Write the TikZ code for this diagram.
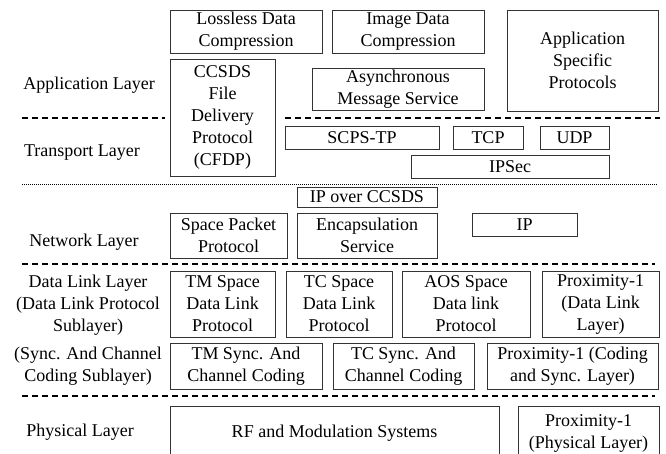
\documentclass[tikz,border=0pt]{standalone}
\usepackage{fontspec}
\setmainfont{Liberation Serif}
\begin{document}
\begin{tikzpicture}[x=1pt,y=-1pt,
    blk/.style={draw=black!80, line width=0.8pt, align=center, inner sep=0pt},
    lyr/.style={align=center, inner sep=0pt},
    sep/.style={line width=2.4pt, dash pattern=on 6pt off 4pt},
    fine/.style={line width=0.6pt, dash pattern=on 1pt off 1pt}]
\useasboundingbox (0,0) rectangle (666,453);
\clip (0,0) rectangle (666,453);
\fontsize{18}{22}\selectfont

% layer names
\node[lyr] (applayer) at (89,85) {Application Layer};
\node[lyr] (translayer) at (82,153) {Transport Layer};
\node[lyr] (netlayer) at (84,242) {Network Layer};
\node[lyr] (dlllayer) at (88,305) {Data Link Layer\\(Data Link Protocol\\Sublayer)};
\node[lyr] (synclayer) at (88,366) {(Sync. And Channel\\Coding Sublayer)};
\node[lyr] (phylayer) at (80,432) {Physical Layer};

% application
\node[blk, minimum width=152, minimum height=43] (lossless) at (246,31.5) {Lossless Data\\Compression};
\node[blk, minimum width=152, minimum height=43] (imgcomp) at (408,31.5) {Image Data\\Compression};
\node[blk, minimum width=151, minimum height=101] (appspec) at (582.5,60.5) {Application\\Specific\\Protocols};
\node[blk, minimum width=172, minimum height=42] (ams) at (398,89) {Asynchronous\\Message Service};
\node[blk, minimum width=105, minimum height=117] (cfdp) at (222.5,117.5) {CCSDS\\File\\Delivery\\Protocol\\(CFDP)};

% transport
\node[blk, minimum width=154, minimum height=23] (scps) at (362,137.5) {SCPS-TP};
\node[blk, minimum width=70, minimum height=23] (tcp) at (488,137.5) {TCP};
\node[blk, minimum width=69, minimum height=23] (udp) at (574.5,137.5) {UDP};
\node[blk, minimum width=198, minimum height=23] (ipsec) at (510,166.5) {IPSec};

% network
\node[blk, minimum width=140, minimum height=20] (ipccsds) at (367,197) {IP over CCSDS};
\node[blk, minimum width=117, minimum height=45] (spp) at (228.5,235.5) {Space Packet\\Protocol};
\node[blk, minimum width=140, minimum height=45] (encap) at (367,235.5) {Encapsulation\\Service};
\node[blk, minimum width=105, minimum height=23] (ip) at (524.5,224.5) {IP};

% data link
\node[blk, minimum width=105, minimum height=66] (tmsdl) at (222.5,304) {TM Space\\Data Link\\Protocol};
\node[blk, minimum width=106, minimum height=66] (tcsdl) at (339,304) {TC Space\\Data Link\\Protocol};
\node[blk, minimum width=128, minimum height=66] (aossdl) at (466,304) {AOS Space\\Data link\\Protocol};
\node[blk, minimum width=117, minimum height=66] (proxdl) at (600.5,304) {Proximity-1\\(Data Link\\Layer)};

% sync and coding
\node[blk, minimum width=152, minimum height=46] (tmsync) at (246,366) {TM Sync. And\\Channel Coding};
\node[blk, minimum width=141, minimum height=46] (tcsync) at (403.5,366) {TC Sync. And\\Channel Coding};
\node[blk, minimum width=171, minimum height=46] (proxcs) at (572.5,366) {Proximity-1 (Coding\\and Sync. Layer)};

% physical
\node[blk, minimum width=329, minimum height=54] (rfmod) at (334.5,433) {RF and Modulation Systems};
\node[blk, minimum width=141, minimum height=54] (proxphy) at (588.5,433) {Proximity-1\\(Physical Layer)};

% layer borders
\draw[sep] (22,118) -- (165,118);
\draw[sep] (285,118) -- (660,118);
\draw[fine] (22,184) -- (658,184);
\draw[sep] (22,264) -- (655,264);
\draw[sep] (22,396) -- (655,396);
\end{tikzpicture}
\end{document}
